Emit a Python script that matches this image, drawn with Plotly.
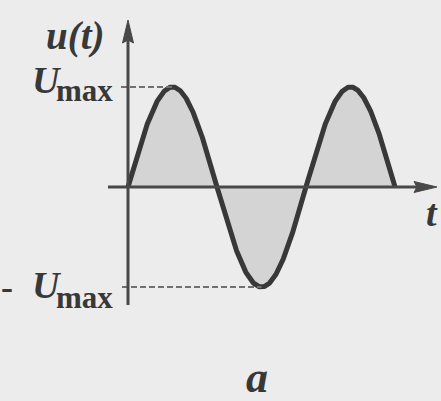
import numpy as np
import plotly.graph_objects as go

# Signal parameters: amplitude and number of periods shown
U_MAX = 1.0
PERIODS = 1.5
# Labels
Y_LABEL = "u(t)"
X_LABEL = "t"
PANEL = "a"

W, H = 441, 401
# Pixel placement of the origin and scale of the drawing
X0PX, Y0PX = 128, 187
PX_PER_RAD = 267 / (2 * np.pi * PERIODS)
PX_PER_U = 100

xr = [-X0PX / PX_PER_RAD, (W - X0PX) / PX_PER_RAD]
yr = [-(H - Y0PX) / PX_PER_U, Y0PX / PX_PER_U]


def dx(px):
    return (px - X0PX) / PX_PER_RAD


def dy(py):
    return (Y0PX - py) / PX_PER_U


def px(x):
    return x / W


def py(y):
    return 1 - y / H


t = np.linspace(0, 2 * np.pi * PERIODS, 600)
u = U_MAX * np.sin(t)

INK = "#383838"
AXIS = "#484848"
DASH = "#707070"

fig = go.Figure()
fig.add_trace(go.Scatter(
    x=t, y=u, mode="lines", fill="tozeroy",
    fillcolor="#d4d4d4",
    line=dict(color=INK, width=5),
    hoverinfo="skip",
))

shapes = []
# dashed guide lines to the extremes
shapes.append(dict(type="line", xref="x", yref="y",
                   x0=dx(121), x1=np.pi / 2, y0=U_MAX, y1=U_MAX,
                   line=dict(color=DASH, width=2, dash="6px,3px")))
shapes.append(dict(type="line", xref="x", yref="y",
                   x0=dx(122), x1=3 * np.pi / 2, y0=-U_MAX, y1=-U_MAX,
                   line=dict(color=DASH, width=2, dash="6px,3px")))
# horizontal axis
shapes.append(dict(type="line", xref="x", yref="y",
                   x0=dx(108), x1=dx(420), y0=0, y1=0,
                   line=dict(color=AXIS, width=3)))
# vertical axis
shapes.append(dict(type="line", xref="x", yref="y",
                   x0=0, x1=0, y0=dy(305), y1=dy(38),
                   line=dict(color=AXIS, width=3)))
# arrow heads (paper coordinates)
shapes.append(dict(type="path", xref="paper", yref="paper",
                   path=f"M{px(437)},{py(187)} L{px(414)},{py(181.5)} L{px(417)},{py(187)} L{px(414)},{py(192.5)} Z",
                   fillcolor=AXIS, line=dict(color=AXIS, width=1)))
shapes.append(dict(type="path", xref="paper", yref="paper",
                   path=f"M{px(128)},{py(20)} L{px(122.5)},{py(43)} L{px(128)},{py(40)} L{px(133.5)},{py(43)} Z",
                   fillcolor=AXIS, line=dict(color=AXIS, width=1)))

SERIF = "Liberation Serif"


def label(text, x, y, size, xanchor="center", yanchor="middle"):
    return dict(text=text, x=px(x), y=py(y), xref="paper", yref="paper",
                xanchor=xanchor, yanchor=yanchor, showarrow=False,
                borderpad=0,
                font=dict(family=SERIF, size=size, color=INK))


ann = [
    label(f"<b><i>{Y_LABEL}</i></b>", 75, 36, 39),
    label("<b><i>U</i></b>", 47, 80, 38),
    label("<b>max</b>", 84, 90, 31),
    label("<b>-</b>", 0, 287, 36, xanchor="left"),
    label("<b><i>U</i></b>", 47, 285, 38),
    label("<b>max</b>", 84, 297, 31),
    label(f"<b><i>{X_LABEL}</i></b>", 432, 213, 38),
    label(f"<b><i>{PANEL}</i></b>", 257, 377, 44),
]

fig.update_layout(
    width=W, height=H,
    margin=dict(l=0, r=0, t=0, b=0),
    paper_bgcolor="#ececec", plot_bgcolor="#ececec",
    showlegend=False,
    xaxis=dict(range=xr, visible=False, fixedrange=True),
    yaxis=dict(range=yr, visible=False, fixedrange=True),
    shapes=shapes, annotations=ann,
)

fig.write_html("out.html")
